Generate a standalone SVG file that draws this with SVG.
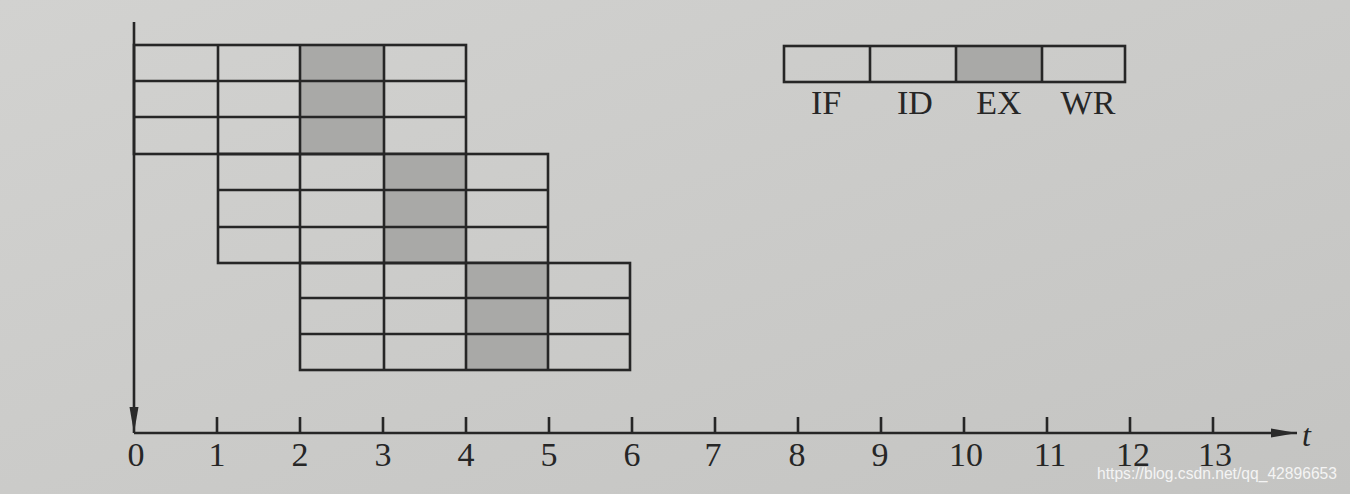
<svg xmlns="http://www.w3.org/2000/svg" width="1350" height="494" viewBox="0 0 1350 494">
<defs>
<linearGradient id="bg" x1="0" y1="0" x2="1" y2="1">
<stop offset="0" stop-color="#d2d2d0"/>
<stop offset="0.5" stop-color="#cbcbc9"/>
<stop offset="1" stop-color="#c4c4c2"/>
</linearGradient>
<marker id="arr" viewBox="0 0 26 10" refX="26" refY="5" markerWidth="26" markerHeight="10" markerUnits="userSpaceOnUse" orient="auto">
<path d="M0,0.5 L26,5 L0,9.5 Z" fill="#2a2a2a"/>
</marker>
</defs>
<style>
.ln{stroke:#262626;stroke-width:2.6;fill:none}
.cell{fill:none;stroke:#262626;stroke-width:2.6}
.sh{fill:#a9a9a7}
.num{font-family:"Liberation Serif",serif;font-size:34px;fill:#262626;text-anchor:middle}
.lab{font-family:"Liberation Serif",serif;font-size:34px;fill:#262626;text-anchor:middle}
.wm{font-family:"Liberation Sans",Arial,sans-serif;font-size:17px;fill:#f4f4f4}
</style>
<rect width="1350" height="494" fill="url(#bg)"/>

<g id="block1">
<rect class="sh" x="300" y="45" width="84" height="109"/>
<rect class="cell" x="134" y="45" width="332" height="109"/>
<path class="ln" d="M134,81 H466 M134,117 H466 M218,45 V154 M300,45 V154 M384,45 V154"/>
</g>

<g id="block2">
<rect class="sh" x="384" y="154" width="82" height="109"/>
<rect class="cell" x="218" y="154" width="330" height="109"/>
<path class="ln" d="M218,190 H548 M218,227 H548 M300,154 V263 M384,154 V263 M466,154 V263"/>
</g>

<g id="block3">
<rect class="sh" x="466" y="263" width="82" height="107"/>
<rect class="cell" x="300" y="263" width="330" height="107"/>
<path class="ln" d="M300,298 H630 M300,334 H630 M384,263 V370 M466,263 V370 M548,263 V370"/>
</g>

<g id="legend">
<rect class="sh" x="956" y="46" width="86" height="36"/>
<rect class="cell" x="784" y="46" width="341" height="36"/>
<path class="ln" d="M870,46 V82 M956,46 V82 M1042,46 V82"/>
<text class="lab" x="826" y="114">IF</text>
<text class="lab" x="915" y="114">ID</text>
<text class="lab" x="999" y="114">EX</text>
<text class="lab" x="1088" y="114">WR</text>
</g>

<g id="connectors">
<line class="ln" x1="134" y1="22" x2="134" y2="433" marker-end="url(#arr)"/>
<line class="ln" x1="134" y1="433" x2="1297" y2="433" marker-end="url(#arr)"/>
<path class="ln" d="M217,417 V433 M300,417 V433 M383,417 V433 M466,417 V433 M549,417 V433 M632,417 V433 M715,417 V433 M798,417 V433 M881,417 V433 M964,417 V433 M1047,417 V433 M1130,417 V433 M1213,417 V433"/>
</g>

<g id="axis-labels">
<text class="num" x="136" y="466">0</text>
<text class="num" x="217" y="466">1</text>
<text class="num" x="300" y="466">2</text>
<text class="num" x="383" y="466">3</text>
<text class="num" x="466" y="466">4</text>
<text class="num" x="549" y="466">5</text>
<text class="num" x="632" y="466">6</text>
<text class="num" x="713" y="466">7</text>
<text class="num" x="797" y="466">8</text>
<text class="num" x="880" y="466">9</text>
<text class="num" x="966" y="466">10</text>
<text class="num" x="1050" y="466">11</text>
<text class="num" x="1133" y="466">12</text>
<text class="num" x="1215" y="466">13</text>
<text x="1302" y="446" style="font-family:'Liberation Serif',serif;font-size:32px;font-style:italic;fill:#262626">t</text>
</g>

<text class="wm" x="1097" y="479" textLength="240" lengthAdjust="spacingAndGlyphs">https://blog.csdn.net/qq_42896653</text>
</svg>
